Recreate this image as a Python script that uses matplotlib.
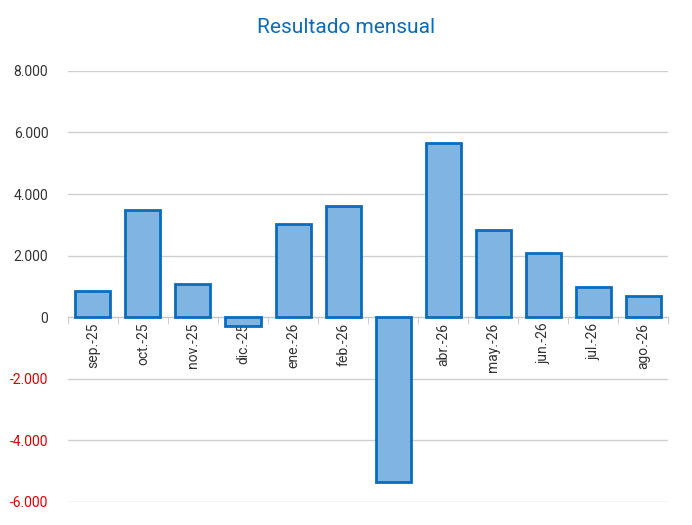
import matplotlib.pyplot as plt
from matplotlib.ticker import FuncFormatter

plt.rcParams['font.family'] = ['Liberation Sans Narrow', 'Roboto', 'DejaVu Sans']

meses = ['sep.-25', 'oct.-25', 'nov.-25', 'dic.-25', 'ene.-26', 'feb.-26',
         'mar.-26', 'abr.-26', 'may.-26', 'jun.-26', 'jul.-26', 'ago.-26']
resultado = [844, 3470, 1070, -290, 3020, 3600, -5360, 5650, 2820, 2080, 970, 680]

fig = plt.figure(figsize=(6.92, 5.25), dpi=100)
ax = fig.add_axes([0.098, 0.044, 0.868, 0.821])

ax.spines['bottom'].set_position(('data', 0))

ax.bar(range(len(meses)), resultado, width=0.7, color='#7fb5e0',
       edgecolor='#0a6cbd', linewidth=2, zorder=3)

ax.set_ylim(-6000, 8000)
ax.set_xlim(-0.5, len(meses) - 0.5)
ax.set_yticks(range(-6000, 8001, 2000))
ax.yaxis.set_major_formatter(FuncFormatter(lambda v, p: f'{int(v):,}'.replace(',', '.')))
ax.grid(axis='y', color='#d0d0d0', linewidth=1, zorder=0)

ax.set_xticks(range(len(meses)))
ax.set_xticklabels(meses, fontsize=10, color='#333333')
ax.set_xticks([i + 0.5 for i in range(-1, len(meses))], minor=True)
ax.spines['bottom'].set_color('#c8c8c8')
for s in ['top', 'right', 'left']:
    ax.spines[s].set_visible(False)
ax.tick_params(axis='x', which='major', length=0, labelrotation=90, pad=4)
ax.tick_params(axis='x', which='minor', length=5, color='#c8c8c8')
ax.tick_params(axis='y', length=0, labelsize=10, pad=14)

for lbl, v in zip(ax.get_yticklabels(), ax.get_yticks()):
    lbl.set_color('#e00000' if v < 0 else '#333333')

fig.suptitle('Resultado mensual', y=0.965, fontsize=15, color='#0a6cbd')

fig.savefig('out.png', dpi=100)
